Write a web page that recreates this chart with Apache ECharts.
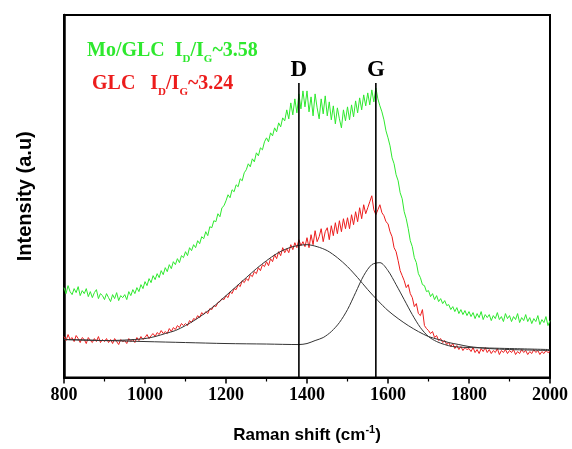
<!DOCTYPE html>
<html>
<head>
<meta charset="utf-8">
<script src="https://cdn.jsdelivr.net/npm/echarts@6/dist/echarts.min.js"></script>
<style>html,body{margin:0;padding:0;background:#fff;}#c{width:572px;height:449px;}</style>
</head>
<body>
<div id="c"></div>
<script>
// Raman shift grid for the measured spectra (cm^-1)
var shiftStart = 800, shiftStep = 5;
// Mo/GLC spectrum (arbitrary intensity units), one value per 5 cm^-1 from 800 to 2000
var moGlc = [
 90,84,92,86,83,89,85,91,82,87,
 84,89,81,86,80,85,88,79,84,82,
 78,84,80,76,83,79,85,77,82,80,
 83,78,86,82,88,84,90,86,93,89,
 96,92,99,95,102,98,104,100,107,103,
 110,106,113,109,116,113,119,115,122,120,
 126,122,130,127,133,130,137,134,141,139,
 146,142,151,150,157,156,164,161,170,172,
 177,183,180,188,186,193,191,199,197,205,
 208,214,211,219,216,225,222,230,228,236,
 240,236,245,242,250,246,255,251,260,257,
 268,259,275,263,279,265,284,269,287,271,
 287,266,281,262,284,270,259,279,264,282,
 262,276,258,272,254,270,259,250,268,257,
 271,258,273,261,277,265,280,268,283,272,
 285,273,288,276,290,279,272,266,258,247,
 240,232,220,214,203,197,185,179,166,159,
 149,137,131,120,115,104,100,93,92,86,
 87,81,84,78,82,76,79,74,77,72,
 73,68,71,66,70,64,68,63,67,62,
 66,61,65,59,64,60,66,58,63,60,
 63,57,62,59,65,58,61,56,64,59,
 62,56,61,58,64,55,60,57,63,56,
 60,54,59,56,62,53,58,55,61,52,
 57
];
// GLC spectrum
var glc = [
 41,37,43,38,40,36,42,39,35,40,
 38,34,40,37,35,39,36,41,35,38,
 36,39,35,38,34,39,36,33,38,36,
 37,34,39,36,38,35,40,37,41,38,
 40,43,39,42,44,41,45,43,47,44,
 46,44,49,46,50,48,52,50,54,52,
 54,52,57,55,59,58,62,60,65,63,
 66,64,69,68,72,71,75,76,79,78,
 82,80,86,84,89,88,93,91,97,95,
 99,97,103,101,106,104,110,107,113,111,
 116,112,119,116,123,119,126,122,130,125,
 129,125,133,128,135,130,138,132,136,131,
 140,130,143,133,147,136,141,149,136,146,
 150,138,152,142,155,144,157,146,159,149,
 160,149,163,153,166,156,170,159,173,164,
 170,176,182,168,163,168,173,165,162,156,
 154,146,141,130,126,117,107,102,97,90,
 93,84,80,71,74,64,62,68,52,49,
 47,44,46,40,42,37,39,35,37,33,
 35,31,34,29,32,28,31,27,30,28,
 29,26,30,25,28,24,29,26,30,25,
 28,24,27,25,29,23,27,25,28,24,
 27,25,28,23,26,24,28,25,27,23,
 26,24,28,25,27,23,26,24,27,25,
 26
];
// Fitted D band (with baseline): [shift, intensity]
var dFit = [[800,38],[850,37.5],[900,37],[950,37.5],[1000,39],[1025,41],[1050,44],[1075,47],[1100,52],[1125,58],[1150,65],[1175,73],[1200,82],[1225,91],[1250,100],[1275,109],[1300,117],[1325,124],[1350,129],[1375,132],[1400,133],[1425,131],[1450,127],[1475,120],[1500,111],[1525,100],[1550,88],[1575,77],[1600,67],[1625,59],[1650,52],[1675,46],[1700,41],[1725,38],[1750,35],[1775,33],[1800,31],[1850,29],[1900,28],[1950,27.5],[2000,27]];
// Fitted G band (with baseline)
var gFit = [[800,38],[900,37],[1000,36],[1100,35],[1200,34],[1300,33.5],[1380,33],[1400,34],[1420,37],[1440,40],[1460,46],[1480,55],[1500,68],[1520,85],[1540,102],[1560,113],[1580,115],[1600,107],[1620,93],[1640,78],[1660,63],[1680,50],[1700,41],[1720,36],[1740,33],[1760,31],[1800,30],[1850,29.5],[1900,29],[2000,28]];
// Peak markers
var peakNames = ['D','G'];
var peakShifts = [1380, 1570];
var peakLineTop = 295;
var xTicks = [800,1000,1200,1400,1600,1800,2000];

function toPairs(arr){ var o=[]; for(var i=0;i<arr.length;i++){ o.push([shiftStart+i*shiftStep, arr[i]]); } return o; }

var series = [
 {type:'line', data:toPairs(moGlc), symbol:'none', lineStyle:{color:'#2ee82e', width:1}, z:3},
 {type:'line', data:toPairs(glc), symbol:'none', lineStyle:{color:'#ec1c1c', width:1}, z:3},
 {type:'line', data:dFit, symbol:'none', smooth:0.3, lineStyle:{color:'#333', width:1}, z:4},
 {type:'line', data:gFit, symbol:'none', smooth:0.3, lineStyle:{color:'#333', width:1}, z:4}
];
peakShifts.forEach(function(s, i){
  series.push({type:'line', symbol:'none', z:5, lineStyle:{color:'#000', width:1.6},
    data:[{value:[s,0]},{value:[s,peakLineTop], symbol:'circle', symbolSize:0.1, label:{show:true, position:'top', distance:1, formatter:peakNames[i], fontFamily:'Liberation Serif', fontWeight:'bold', fontSize:23, color:'#000'}}]});
});

var chart = echarts.init(document.getElementById('c'), null, {renderer:'canvas'});
chart.setOption({
  animation:false,
  grid:{left:64, right:22, top:15, bottom:71, show:true, borderColor:'#000', borderWidth:2},
  xAxis:{type:'value', min:800, max:2000, interval:200,
    axisLine:{show:true, lineStyle:{color:'#000', width:2}},
    axisTick:{show:true, inside:false, length:6, lineStyle:{color:'#000', width:1.5}},
    minorTick:{show:true, splitNumber:2, length:4, lineStyle:{color:'#000', width:1.2}},
    splitLine:{show:false},
    axisLabel:{fontFamily:'Liberation Serif', fontWeight:'bold', fontSize:18, color:'#000', margin:9,
      formatter:function(v){ return xTicks.indexOf(v)>=0 ? String(v) : ''; }},
    name:'Raman shift (cm{sup|-1})', nameLocation:'middle', nameGap:47,
    nameTextStyle:{fontFamily:'Liberation Sans', fontWeight:'bold', fontSize:17, color:'#000',
      rich:{sup:{fontFamily:'Liberation Sans', fontWeight:'bold', fontSize:11, verticalAlign:'top', lineHeight:22, color:'#000'}}}
  },
  yAxis:{type:'value', min:0, max:363,
    axisLine:{show:true, lineStyle:{color:'#000', width:2.5}},
    axisTick:{show:false}, axisLabel:{show:false}, splitLine:{show:false},
    name:'Intensity (a.u)', nameLocation:'middle', nameGap:29, nameRotate:90,
    nameTextStyle:{fontFamily:'Liberation Sans', fontWeight:'bold', fontSize:20, color:'#000'}
  },
  graphic:[
    {type:'text', left:87, top:41, style:{
      text:'{a|Mo/GLC  I}{s|D}{a|/I}{s|G}{a|~3.58}',
      rich:{a:{fontFamily:'Liberation Serif', fontWeight:'bold', fontSize:20, fill:'#2ee82e', lineHeight:27, verticalAlign:'middle'},
            s:{fontFamily:'Liberation Serif', fontWeight:'bold', fontSize:11, fill:'#2ee82e', lineHeight:11, verticalAlign:'bottom'}}}},
    {type:'text', left:92, top:74, style:{
      text:'{a|GLC   I}{s|D}{a|/I}{s|G}{a|~3.24}',
      rich:{a:{fontFamily:'Liberation Serif', fontWeight:'bold', fontSize:20, fill:'#ec1c1c', lineHeight:27, verticalAlign:'middle'},
            s:{fontFamily:'Liberation Serif', fontWeight:'bold', fontSize:11, fill:'#ec1c1c', lineHeight:11, verticalAlign:'bottom'}}}}
  ],
  series:series
});
</script>
</body>
</html>
